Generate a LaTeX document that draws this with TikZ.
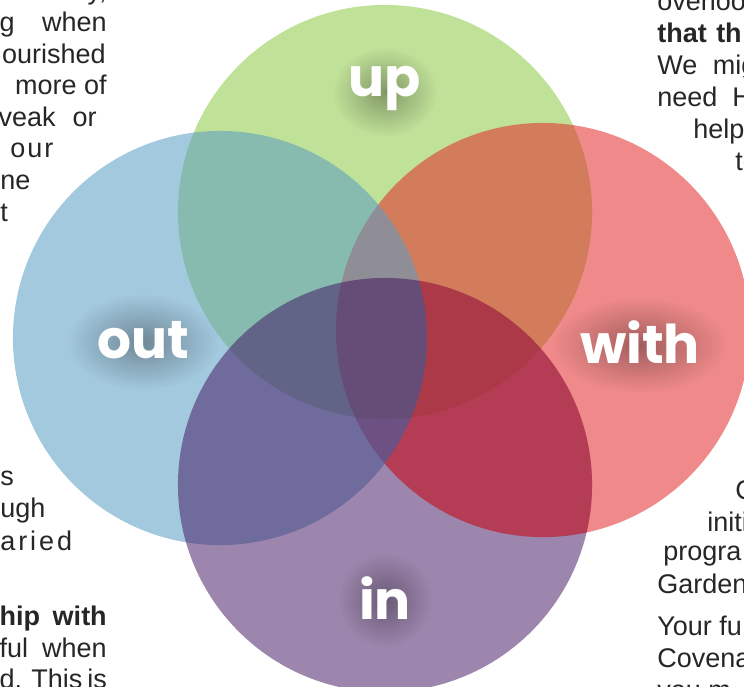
\documentclass[tikz,border=0pt]{standalone}
\usepackage{fontspec}
\newfontfamily\bodyfont{Liberation Sans}
\newfontfamily\handfont{Poppins}
\usetikzlibrary{positioning, fadings}

\definecolor{upgreen}{RGB}{140,200,68}
\definecolor{outblue}{RGB}{88,157,197}
\definecolor{withred}{RGB}{228,42,42}
\definecolor{inpurple}{RGB}{60,14,92}

\tikzfading[name=glow, inner color=transparent!35, outer color=transparent!100]

\tikzset{
  ring/.style={circle, minimum size=10.35cm, inner sep=0pt, fill opacity=0.55},
  word/.style={font=\handfont\bfseries\fontsize{38}{38}\selectfont, text=white, inner sep=0pt},
  glowspot/.style={fill=black, fill opacity=0.5, path fading=glow},
  pagetext/.style={font=\bodyfont\fontsize{19.2}{22}\selectfont, inner sep=0pt, text=black!85},
}

\begin{document}
\begin{tikzpicture}[x=0.025cm, y=-0.025cm]
  \useasboundingbox (0,0) rectangle (744,686);
  \clip (0,0) rectangle (744,686);

  % Page text round the picture, left column (right edge at 107px)
  \node (l1) [pagetext, anchor=base east] at (107,-1) {y,};
  \node (l2) [pagetext, anchor=base east] at (107,31) {\makebox[2.675cm][s]{g when}};
  \node (l3) [pagetext, anchor=base east] at (106,63) {ourished};
  \node (l4) [pagetext, anchor=base east] at (107,94) {more of};
  \node (l5) [pagetext, anchor=base east] at (97,126) {\makebox[2.45cm][s]{veak or}};
  \node (l6) [pagetext, anchor=base west] at (10,157) {\makebox[1.08cm][s]{o\hfill u\hfill r}};
  \node (l7) [pagetext, anchor=base west] at (0,189) {\makebox[0.62cm][s]{n\hfill e}};
  \node (l8) [pagetext, anchor=base west] at (0,221) {t};
  \node (l9) [pagetext, anchor=base west] at (0,485) {s};
  \node (l10) [pagetext, anchor=base west] at (0,517) {ugh};
  \node (l11) [pagetext, anchor=base west] at (0,550) {\makebox[1.8cm][s]{a\hfill r\hfill i\hfill e\hfill d}};
  \node (l12) [pagetext, anchor=base east] at (107,625) {\makebox[2.675cm][s]{\bfseries hip with}};
  \node (l13) [pagetext, anchor=base east] at (107,657) {\makebox[2.675cm][s]{ful when}};
  \node (l14) [pagetext, anchor=base east] at (107,688) {\makebox[2.675cm][s]{d. This is}};

  % Page text, right column (left edge at 657px)
  \node (r1) [pagetext, anchor=base west] at (657,10) {overloo};
  \node (r2) [pagetext, anchor=base west] at (657,42) {\bfseries that\hspace{0.05cm} th};
  \node (r3) [pagetext, anchor=base west] at (657,74) {We\hspace{0.2cm} mig};
  \node (r4) [pagetext, anchor=base west] at (657,106) {need\hspace{0.19cm} H};
  \node (r5) [pagetext, anchor=base west] at (693,138) {help};
  \node (r6) [pagetext, anchor=base west] at (735,170) {to};
  \node (r7) [pagetext, anchor=base west] at (735,499) {C};
  \node (r8) [pagetext, anchor=base west] at (707,531) {initi};
  \node (r9) [pagetext, anchor=base west] at (663,560) {progra};
  \node (r10) [pagetext, anchor=base west] at (657,593) {Garden};
  \node (r11) [pagetext, anchor=base west] at (657,635) {Your fu};
  \node (r12) [pagetext, anchor=base west] at (657,667) {Covena};
  \node (r13) [pagetext, anchor=base west] at (657,699) {you m};

  % The four circles; blue over red, purple on top
  \node (up) [ring, fill=upgreen] at (385,212) {};
  \node (with) [ring, fill=withred] at (543,330) {};
  \node (out) [ring, fill=outblue] at (220,338) {};
  \node (in) [ring, fill=inpurple, fill opacity=0.5] at (385,485) {};

  % Redden the with/in overlap outside the blue circle
  \begin{scope}[even odd rule]
    \clip (in.center) circle [radius=5.175cm];
    \clip (0,0) rectangle (744,686) (out.center) circle [radius=5.175cm];
    \fill [withred, fill opacity=0.4] (with.center) circle [radius=5.175cm];
  \end{scope}

  % Soft dark shadows behind the words
  \fill [glowspot] (385,92) ellipse [x radius=1.3cm, y radius=1.1cm];
  \fill [glowspot] (143,342) ellipse [x radius=1.9cm, y radius=1.2cm];
  \fill [glowspot] (640,345) ellipse [x radius=2.2cm, y radius=1.2cm];
  \fill [glowspot] (385,600) ellipse [x radius=1.2cm, y radius=1.2cm];

  % Words
  \node (uplabel) [word] at (385,88) {up};
  \node (outlabel) [word] at (143,340) {out};
  \node (withlabel) [word] at (640,342) {with};
  \node (inlabel) [word] at (385,598) {in};
\end{tikzpicture}
\end{document}
